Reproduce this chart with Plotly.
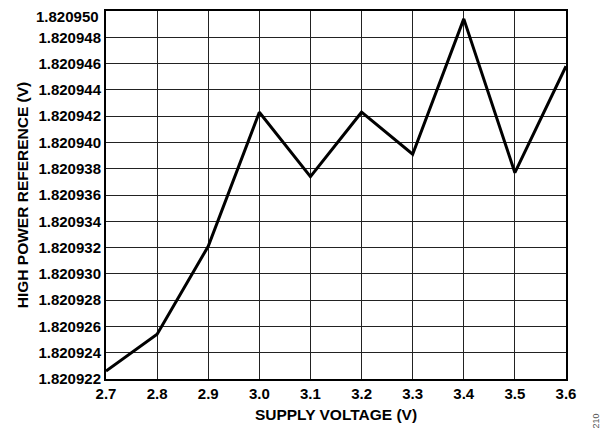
import plotly.graph_objects as go

supply_voltage = [2.7, 2.8, 2.9, 3.0, 3.1, 3.2, 3.3, 3.4, 3.5, 3.6]
high_power_ref = [1.8209226, 1.8209254, 1.8209321, 1.8209423, 1.8209374,
                  1.8209423, 1.8209391, 1.8209494, 1.8209377, 1.8209458]

x_ticks = [2.7, 2.8, 2.9, 3.0, 3.1, 3.2, 3.3, 3.4, 3.5, 3.6]
y_ticks = [1.820922 + 0.000002 * i for i in range(15)]
y_tick_labels = ["1.820922", "1.820924", "1.820926", "1.820928", "1.820930",
                 "1.820932", "1.820934", "1.820936", "1.820938", "1.820940",
                 "1.820942", "1.820944", "1.820946", "1.820948", "1.820950"]

font = "Liberation Sans, Arial, sans-serif"

# page has an 8px body margin; figure sized to fit the 614x431 window
W, H = 606, 423
L, R, T, B = 98, 48, 3, 52
TICK_SIZE = 15

fig = go.Figure()
fig.add_trace(go.Scatter(
    x=supply_voltage, y=high_power_ref, mode="lines",
    line=dict(color="black", width=3), hoverinfo="skip", showlegend=False,
))

# the topmost label sits just below the frame edge, drawn as an annotation
shown_labels = y_tick_labels[:-1] + [""]

fig.update_layout(
    width=W, height=H,
    margin=dict(l=L, r=R, t=T, b=B, pad=0),
    paper_bgcolor="white", plot_bgcolor="white",
    font=dict(family=font, color="black"),
    xaxis=dict(
        range=[2.7, 3.6], tickvals=x_ticks, ticktext=[f"{v:.1f}" for v in x_ticks],
        showgrid=True, gridcolor="#222222", gridwidth=1.3,
        showline=True, linecolor="black", linewidth=2, mirror=True,
        zeroline=False, ticks="", ticklen=0, automargin=False,
        tickfont=dict(family=font, size=TICK_SIZE, color="black", weight="bold"),
        title=dict(text="<b>SUPPLY VOLTAGE (V)</b>", font=dict(family=font, size=15.5, color="black"), standoff=8),
    ),
    yaxis=dict(
        range=[1.820922, 1.820950], tickvals=y_ticks, ticktext=shown_labels,
        showgrid=True, gridcolor="#222222", gridwidth=1.3,
        showline=True, linecolor="black", linewidth=2, mirror=True,
        zeroline=False, ticks="", ticklen=0, automargin=False,
        tickfont=dict(family=font, size=TICK_SIZE, color="black", weight="bold"),
        title=dict(text="<b>HIGH POWER REFERENCE (V)</b>", font=dict(family=font, size=15.5, color="black"), standoff=6),
    ),
    annotations=[
        dict(
            text="<b>" + y_tick_labels[-1] + "</b>", xref="paper", yref="paper",
            x=0, y=1, xanchor="right", yanchor="top", xshift=-6, yshift=4,
            showarrow=False, borderpad=0,
            font=dict(family=font, size=TICK_SIZE, color="black"),
        ),
        dict(
            text="210", xref="paper", yref="paper",
            x=(590 - L) / (W - L - R), y=(H - B - 404) / (H - T - B),
            xshift=4, yshift=-19,
            showarrow=False, textangle=-90,
            font=dict(family=font, size=9, color="#555555"),
        ),
    ],
)

fig.write_html("out.html")
